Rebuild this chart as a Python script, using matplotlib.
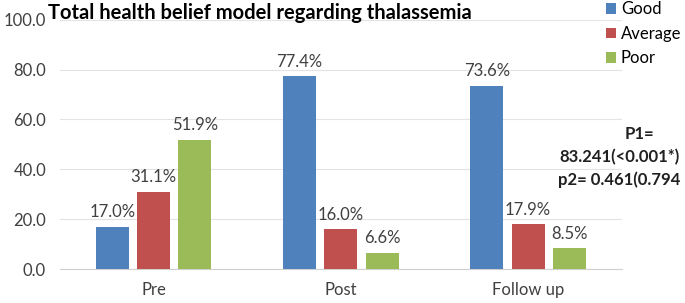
import numpy as np
import matplotlib.pyplot as plt

categorias = ["Pre", "Post", "Follow up"]
good = [17.0, 77.4, 73.6]
average = [31.1, 16.0, 17.9]
poor = [51.9, 6.6, 8.5]
series_nomes = ["Good", "Average", "Poor"]
cores = ["#4F81BD", "#C0504D", "#9BBB59"]

plt.rcParams['font.family'] = ['Lato', 'DejaVu Sans']

fig = plt.figure(figsize=(6.85, 3.03), dpi=100)
ax = fig.add_axes([0.0876, 0.112, 0.82, 0.823])

x = np.arange(len(categorias))
largura = 0.176
passo = 0.22
for i, (vals, nome, cor) in enumerate(zip([good, average, poor], series_nomes, cores)):
    pos = x + (i - 1) * passo
    barras = ax.bar(pos, vals, largura, color=cor, label=nome, zorder=3)
    for b, v in zip(barras, vals):
        ax.text(b.get_x() + b.get_width() / 2, v + 2.5, f"{v:.1f}%",
                ha="center", va="bottom", fontsize=12, color="#404040")

ax.set_xlim(-0.5, 2.5)
ax.set_ylim(0, 100)
ax.set_yticks(np.arange(0, 101, 20))
ax.set_yticklabels([f"{t:.1f}" for t in np.arange(0, 101, 20)])
ax.set_xticks(x)
ax.set_xticklabels(categorias)
ax.tick_params(axis="both", length=0, labelsize=12, colors="#404040")
ax.tick_params(axis="x", pad=9)
ax.tick_params(axis="y", pad=10)
ax.grid(axis="y", color="#E3E3E3", linewidth=0.8, zorder=0)
for s in ["top", "right", "left"]:
    ax.spines[s].set_visible(False)
ax.spines["bottom"].set_color("#D0D0D0")

fig.text(0.07, 0.958, "Total health belief model regarding thalassemia",
         fontsize=14.5, fontweight="bold", color="black", va="center")

ax.legend(loc="upper left", bbox_to_anchor=(0.96, 1.1), frameon=False,
          fontsize=12, handlelength=0.6, handleheight=0.6, handletextpad=0.3,
          labelspacing=0.5, borderaxespad=0)

fig.text(0.934, 0.54, "P1=", fontsize=12, fontweight="bold", ha="center", color="#202020")
fig.text(0.817, 0.465, "83.241(<0.001*)", fontsize=12, fontweight="bold", ha="left", color="#202020")
fig.text(0.815, 0.388, "p2= 0.461(0.794", fontsize=12, fontweight="bold", ha="left", color="#202020")

fig.savefig("out.png", dpi=100)
